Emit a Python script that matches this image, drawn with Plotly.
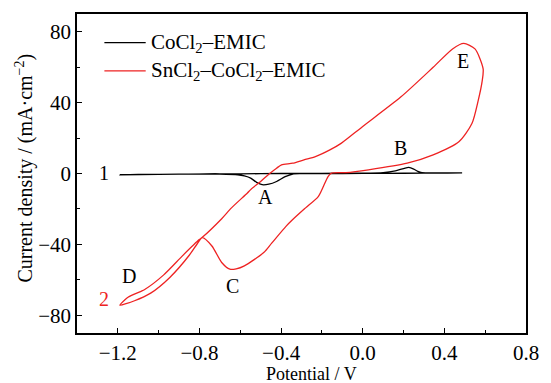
import plotly.graph_objects as go

# SnCl2–CoCl2–EMIC cyclic voltammogram (potential V, current density mA/cm2)
red_v = [-0.153, -0.17, -0.217, -0.28, -0.343, -0.375, -0.446, -0.485, -0.58, -0.62,
         -0.651, -0.691, -0.739, -0.786, -0.81, -0.849, -0.944, -1.039, -1.118, -1.19,
         -1.165, -1.15, -1.086, -1.07, -0.975, -0.881, -0.801, -0.786, -0.691, -0.643,
         -0.565, -0.549, -0.5, -0.454, -0.422, -0.398, -0.343, -0.288, -0.232, -0.161,
         -0.106, -0.003, 0.186, 0.345, 0.44, 0.495, 0.55, 0.59, 0.585, 0.566,
         0.535, 0.471, 0.345, 0.218, 0.028, -0.082, -0.153]
red_j = [0.2, -1.7, -12.9, -19.4, -26.0, -29.7, -39.3, -44.6, -52.1, -53.8,
         -54.0, -50.2, -40.9, -36.2, -39.5, -46.0, -58.5, -67.5, -71.8, -74.3,
         -71.2, -69.8, -66.5, -65.6, -57.2, -46.2, -37.3, -36.0, -25.5, -19.4,
         -11.0, -9.1, -4.5, 0.2, 3.0, 4.9, 5.8, 7.7, 9.5, 13.3,
         17.0, 26.3, 43.1, 59.9, 70.3, 73.4, 70.3, 59.0, 52.0, 41.3,
         28.2, 17.9, 10.5, 5.8, 2.1, 0.5, 0.2]

# CoCl2–EMIC cyclic voltammogram
black_v = [-1.19, -1.0, -0.8, -0.6, -0.4, -0.2, 0.0, 0.1, 0.16, 0.2, 0.226, 0.25, 0.27,
           0.29, 0.35, 0.487,
           0.3, 0.1, -0.1, -0.3, -0.343, -0.38, -0.422, -0.46, -0.493, -0.52, -0.549,
           -0.58, -0.612, -0.7, -0.9, -1.1, -1.19]
black_j = [-0.7, -0.5, -0.3, -0.2, 0.0, 0.1, 0.2, 0.5, 1.5, 2.8, 3.4, 2.5, 1.2,
           0.5, 0.3, 0.3,
           0.2, 0.1, 0.0, -0.1, -0.3, -1.8, -4.5, -6.0, -6.3, -5.0, -2.6,
           -1.4, -0.7, -0.3, -0.4, -0.5, -0.7]

x_ticks = [-1.2, -0.8, -0.4, 0.0, 0.4, 0.8]
x_tick_text = ["\u22121.2", "\u22120.8", "\u22120.4", "0.0", "0.4", "0.8"]
y_ticks = [-80, -40, 0, 40, 80]
y_tick_text = ["\u221280", "\u221240", "0", "40", "80"]

peak_labels = ["A", "B", "C", "D", "E"]
peak_v = [-0.474, 0.185, -0.636, -1.143, 0.489]
peak_j = [-13.5, 14.2, -63.5, -58.0, 63.3]

FONT = "Liberation Serif, Times New Roman, serif"
RED = "#ee2222"

fig = go.Figure()
fig.add_trace(go.Scatter(x=black_v, y=black_j, mode="lines",
                         line=dict(color="black", width=1.3, shape="spline", smoothing=0.6),
                         showlegend=False))
fig.add_trace(go.Scatter(x=red_v, y=red_j, mode="lines",
                         line=dict(color=RED, width=1.3, shape="spline", smoothing=0.7),
                         showlegend=False))

axis_common = dict(showline=True, linecolor="black", linewidth=1.5, mirror=True,
                   ticks="inside", ticklen=5, tickwidth=1.2, tickcolor="black",
                   showgrid=False, zeroline=False,
                   tickfont=dict(family=FONT, size=21, color="black"))

fig.update_xaxes(range=[-1.4, 0.8], tickvals=x_ticks, ticktext=x_tick_text,
                 minor=dict(dtick=0.2, tick0=0, ticks="inside", ticklen=3.5,
                            tickwidth=1.2, tickcolor="black"),
                 **axis_common)
fig.update_yaxes(range=[-90, 90], tickvals=y_ticks, ticktext=y_tick_text,
                 minor=dict(dtick=20, tick0=0, ticks="inside", ticklen=3.5,
                            tickwidth=1.2, tickcolor="black"),
                 **axis_common)

annotations = []
for lab, v, j in zip(peak_labels, peak_v, peak_j):
    annotations.append(dict(x=v, y=j, text=lab, showarrow=False,
                            font=dict(family=FONT, size=20, color="black")))
annotations.append(dict(x=-1.27, y=0.4, text="1", showarrow=False,
                        font=dict(family=FONT, size=20, color="black")))
annotations.append(dict(x=-1.27, y=-71.0, text="2", showarrow=False,
                        font=dict(family=FONT, size=20, color=RED)))

# legend
legend_names = ["CoCl<sub>2</sub>\u2013EMIC", "SnCl<sub>2</sub>\u2013CoCl<sub>2</sub>\u2013EMIC"]
legend_colors = ["black", RED]
legend_y = [0.910, 0.822]
shapes = []
for name, col, ly in zip(legend_names, legend_colors, legend_y):
    shapes.append(dict(type="line", xref="paper", yref="paper", x0=0.061, x1=0.153,
                       y0=ly, y1=ly, line=dict(color=col, width=1.3)))
    annotations.append(dict(xref="paper", yref="paper", x=0.161, y=ly, text=name,
                            xanchor="left", yanchor="middle", showarrow=False,
                            font=dict(family=FONT, size=21, color="black")))

# axis titles
annotations.append(dict(xref="paper", yref="paper", x=(316 - 77) / 458, y=(333 - 374) / 320,
                        text="Potential / V", showarrow=False, xanchor="center",
                        yanchor="middle", font=dict(family=FONT, size=18, color="black")))
annotations.append(dict(xref="paper", yref="paper", x=(23 - 77) / 458, y=(333 - 168) / 320,
                        text="Current density / (mA\u00b7cm<sup>\u22122</sup>)", showarrow=False,
                        textangle=-90, xanchor="center", yanchor="middle",
                        font=dict(family=FONT, size=20, color="black")))

fig.update_layout(width=551, height=383, margin=dict(l=77, r=16, t=13, b=50),
                  paper_bgcolor="white", plot_bgcolor="white",
                  annotations=annotations, shapes=shapes, showlegend=False)

fig.write_html("out.html")
